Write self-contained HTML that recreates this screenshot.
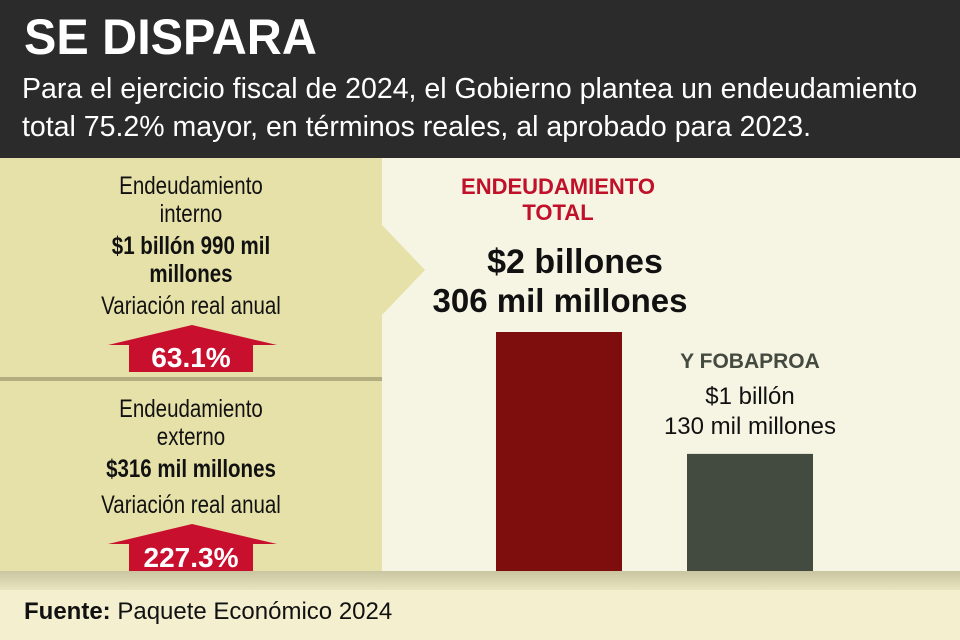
<!DOCTYPE html>
<html><head><meta charset="utf-8">
<style>
body{margin:0;width:960px;height:640px;overflow:hidden;background:#f6f5e4;font-family:"Liberation Sans",sans-serif;position:relative}
#hdr{position:absolute;left:0;top:0;width:960px;height:158px;background:#2b2b2b;color:#fff}
#title{position:absolute;left:24px;top:8px;font-size:50px;font-weight:bold;transform:scaleX(0.97);transform-origin:left}
#sub{position:absolute;left:22px;top:70px;font-size:28.5px;line-height:38px;white-space:nowrap}
#left{position:absolute;left:0;top:158px;width:382px;height:414px;background:#e6e1a9}
#divider{position:absolute;left:0;top:377px;width:382px;height:4px;background:#b3ae80}
.lt{position:absolute;left:0;width:382px;text-align:center;color:#111;font-size:25px;line-height:28px;transform:scaleX(0.82)}
.b{font-weight:bold}
#shadow{position:absolute;left:0;top:571px;width:960px;height:19px;background:linear-gradient(#c9c5a0,#e9e5c0)}
#foot{position:absolute;left:0;top:590px;width:960px;height:50px;background:#f3efcf;font-size:24px;line-height:44px;padding-left:24px;color:#111}
svg{position:absolute;left:0;top:0}
</style></head><body>
<div id="hdr">
<div id="title">SE DISPARA</div>
<div id="sub">Para el ejercicio fiscal de 2024, el Gobierno plantea un endeudamiento<br>total 75.2% mayor, en términos reales, al aprobado para 2023.</div>
</div>
<div id="left"></div>
<div id="divider"></div>
<svg width="960" height="640">
<polygon points="382,225 425,270 382,315" fill="#e6e1a9"/>
<g>
<polygon points="108,345 192,325 277,345" fill="#c8102e"/>
<rect x="129" y="344" width="124" height="28" fill="#c8102e"/>
<text x="191" y="367" text-anchor="middle" fill="#fff" font-size="28" font-weight="bold" font-family="Liberation Sans, sans-serif">63.1%</text>
</g>
<g>
<polygon points="108,544 192,524 277,544" fill="#c8102e"/>
<rect x="129" y="543" width="124" height="28" fill="#c8102e"/>
<text x="191" y="567" text-anchor="middle" fill="#fff" font-size="28" font-weight="bold" font-family="Liberation Sans, sans-serif">227.3%</text>
</g>
<g id="bars"></g>
<text x="558" y="194" text-anchor="middle" fill="#c0102a" font-size="22" font-weight="bold" font-family="Liberation Sans, sans-serif">ENDEUDAMIENTO</text>
<text x="558" y="220" text-anchor="middle" fill="#c0102a" font-size="22" font-weight="bold" font-family="Liberation Sans, sans-serif">TOTAL</text>
<text x="575" y="273" text-anchor="middle" fill="#111" font-size="34" font-weight="bold" font-family="Liberation Sans, sans-serif">$2 billones</text>
<text x="560" y="312" text-anchor="middle" fill="#111" font-size="33" font-weight="bold" font-family="Liberation Sans, sans-serif">306 mil millones</text>
<text x="750" y="368" text-anchor="middle" fill="#444a40" font-size="21" font-weight="bold" font-family="Liberation Sans, sans-serif">Y FOBAPROA</text>
<text x="750" y="404" text-anchor="middle" fill="#111" font-size="24" font-family="Liberation Sans, sans-serif">$1 billón</text>
<text x="750" y="434" text-anchor="middle" fill="#111" font-size="24" font-family="Liberation Sans, sans-serif">130 mil millones</text>
</svg>
<div class="lt" style="top:172px">Endeudamiento<br>interno</div>
<div class="lt b" style="top:232px">$1 billón 990 mil<br>millones</div>
<div class="lt" style="top:292px">Variación real anual</div>
<div class="lt" style="top:395px">Endeudamiento<br>externo</div>
<div class="lt b" style="top:455px">$316 mil millones</div>
<div class="lt" style="top:491px">Variación real anual</div>
<div id="shadow"></div>
<div id="foot"><b>Fuente:</b> Paquete Económico 2024</div>
<script>
const categories=["Endeudamiento total","Fobaproa"];
const values=[2306,1130];
const colors=["#7e0d0d","#434a40"];
const baseY=571, scale=239/2306, barX=[496,687], barW=126;
function y(v){return baseY-v*scale;}
const g=document.getElementById('bars');
categories.forEach((c,i)=>{
 const r=document.createElementNS('http://www.w3.org/2000/svg','rect');
 r.setAttribute('x',barX[i]);r.setAttribute('y',y(values[i]));
 r.setAttribute('width',barW);r.setAttribute('height',baseY-y(values[i]));
 r.setAttribute('fill',colors[i]);
 
 
 g.appendChild(r);
});
</script>
</body></html>
